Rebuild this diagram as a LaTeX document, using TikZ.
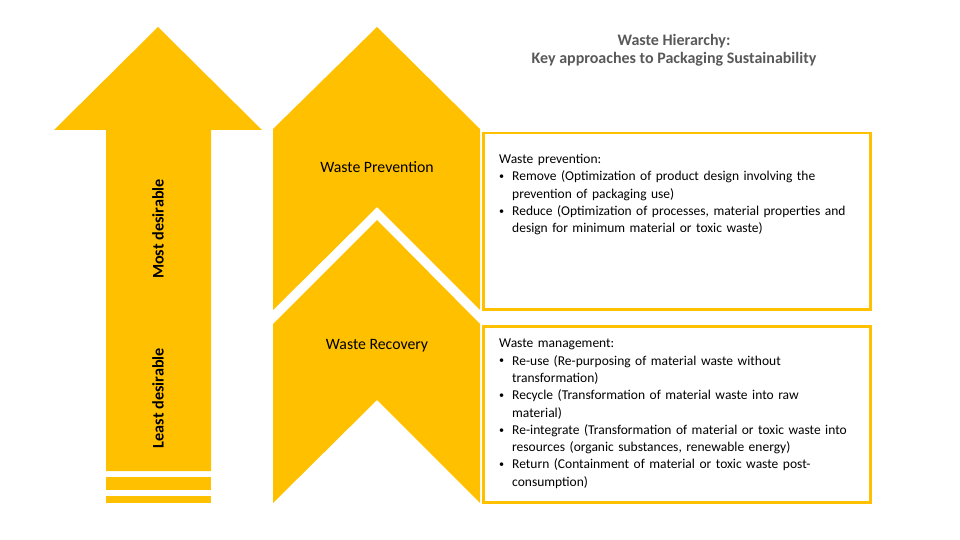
\documentclass[tikz,border=0pt]{standalone}
\usepackage{fontspec}
\setmainfont{Carlito}
\usetikzlibrary{calc}
\definecolor{wasteyellow}{HTML}{FFC000}
\definecolor{titlegray}{HTML}{595959}
% bullet line with hanging indent
\newcommand{\bitem}[1]{\par\hangindent=13pt\hangafter=1\noindent\makebox[13pt][l]{\raisebox{0.2ex}{\scalebox{0.75}{\textbullet}}}#1}
\tikzset{
% yellow shapes of the hierarchy and the white text boxes
hier shape/.style={fill=wasteyellow,draw=none},
info box/.style={draw=wasteyellow,line width=2.5pt,fill=white,minimum width=387pt,minimum height=176pt,anchor=north west,inner sep=0},
info text/.style={anchor=north west,inner sep=0,text width=365pt,font=\fontsize{13.5}{17.3}\selectfont\setlength{\parskip}{0pt}},
stage label/.style={font=\fontsize{15.8}{18}\selectfont},
side label/.style={rotate=90,font=\bfseries\fontsize{16.2}{18}\selectfont}
}

\begin{document}
\begin{tikzpicture}[x=1pt,y=-1pt]
      \useasboundingbox (0,0) rectangle (960,540);
      % Big arrow on the left, with its two bars below
      \fill[hier shape] (54,130) -- (158,27) -- (262,130) -- (211,130) -- (211,471)
        -- (106,471) -- (106,130) -- cycle;
      \fill[hier shape] (106,477) rectangle (211,490);
      \fill[hier shape] (106,496) rectangle (211,503);
      \node(most)[side label] at (158,229) {Most desirable};
      \node(least)[side label] at (158,398) {Least desirable};
      % The two chevrons
      \fill[hier shape] (273,129) -- (377,27) -- (480,129) -- (480,310) -- (377,207)
        -- (273,310) -- cycle;
      \fill[hier shape] (273,324) -- (377,220) -- (480,324) -- (480,503) -- (377,400)
        -- (273,503) -- cycle;
      \node(prev)[stage label] at (377,167) {Waste Prevention};
      \node(recov)[stage label] at (377,346) {Waste Recovery};
      % Boxes
      \node(prevbox)[info box] at (482,132) {};
      \node(recovbox)[info box] at (482,325) {};
      \node(prevtext)[info text] at (499,154) {Waste prevention:
        \bitem{Remove (Optimization of product design involving the\newline prevention of packaging use)}
        \bitem{Reduce (Optimization of processes, material properties and\newline design for minimum material or toxic waste)}\par};
      \node(recovtext)[info text] at (499,339) {Waste management:
        \bitem{Re-use (Re-purposing of material waste without\newline transformation)}
        \bitem{Recycle (Transformation of material waste into raw\newline material)}
        \bitem{Re-integrate (Transformation of material or toxic waste into\newline resources (organic substances, renewable energy)}
        \bitem{Return (Containment of material or toxic waste post-\newline consumption)}\par};
      % Title
      \node(title)[align=center,text=titlegray,font=\bfseries\fontsize{16}{18}\selectfont] at (674,50)
        {Waste Hierarchy:\\Key approaches to Packaging Sustainability};
    \end{tikzpicture}
\end{document}
